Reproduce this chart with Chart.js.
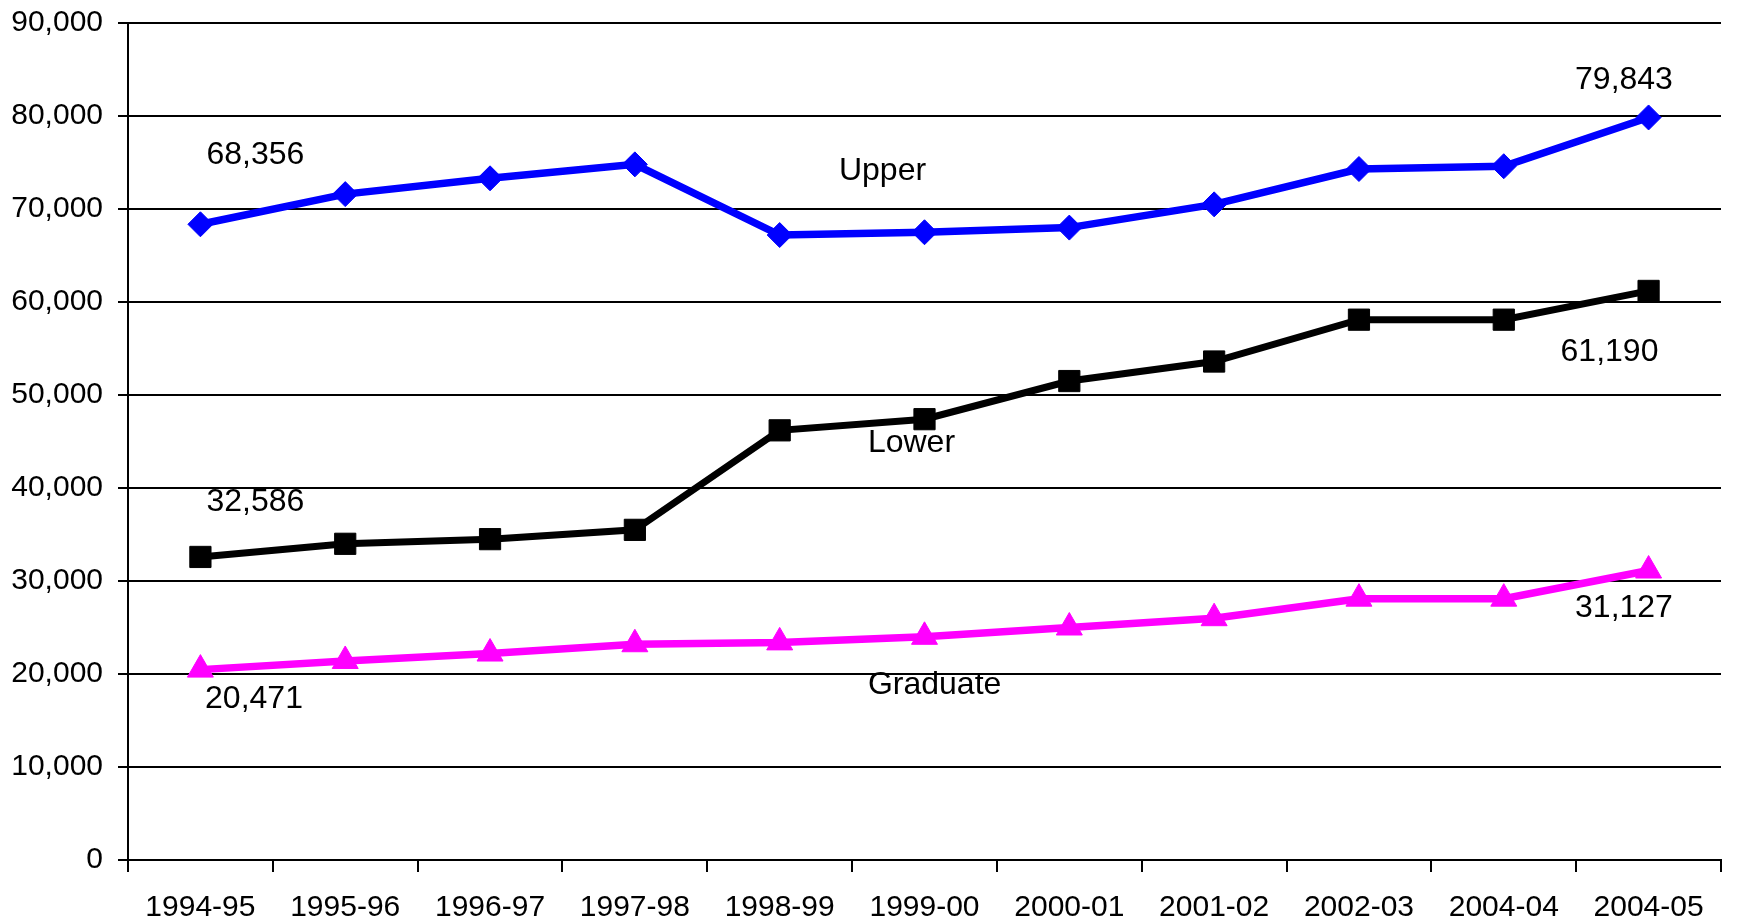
<!DOCTYPE html>
<html>
<head>
<meta charset="utf-8">
<script src="https://cdn.jsdelivr.net/npm/chart.js@4/dist/chart.umd.min.js"></script>
<style>
  html, body { margin: 0; padding: 0; background: #fff; }
  #wrap { width: 1737px; height: 924px; }
</style>
</head>
<body>
<div id="wrap"><canvas id="enrollChart"></canvas></div>
<script>
const years = ["1994-95", "1995-96", "1996-97", "1997-98", "1998-99", "1999-00",
               "2000-01", "2001-02", "2002-03", "2004-04", "2004-05"];

const upper = [68356, 71600, 73300, 74800, 67200, 67500, 68000, 70500, 74300, 74600, 79843];
const lower = [32586, 34000, 34500, 35500, 46200, 47400, 51500, 53600, 58100, 58100, 61190];
const graduate = [20471, 21400, 22200, 23200, 23400, 24000, 25000, 26000, 28100, 28100, 31127];

const yMax = 90000;
const yStep = 10000;

// text labels placed in data space: category index (fractional) and value
const notes = [
    { text: upper[0].toLocaleString("en-US"), at: 0.38, value: 75800 },
    { text: upper[10].toLocaleString("en-US"), at: 9.83, value: 83870 },
    { text: lower[0].toLocaleString("en-US"), at: 0.38, value: 38500 },
    { text: lower[10].toLocaleString("en-US"), at: 9.73, value: 54620 },
    { text: graduate[0].toLocaleString("en-US"), at: 0.37, value: 17310 },
    { text: graduate[10].toLocaleString("en-US"), at: 9.83, value: 27100 },
    { text: "Upper", at: 4.71, value: 74090 },
    { text: "Lower", at: 4.91, value: 44840 },
    { text: "Graduate", at: 5.07, value: 18820 }
];

const fontFamily = "'Liberation Sans', Arial, sans-serif";

const notesPlugin = {
    id: "notes",
    afterDatasetsDraw(chart) {
        const c = chart.ctx;
        const xs = chart.scales.x;
        const ys = chart.scales.y;
        c.save();
        c.font = "32px " + fontFamily;
        c.fillStyle = "#000";
        c.textAlign = "center";
        c.textBaseline = "middle";
        notes.forEach(n => {
            c.fillText(n.text, xs.getPixelForValue(n.at), ys.getPixelForValue(n.value));
        });
        c.restore();
    }
};

const ctx = document.getElementById("enrollChart");

const enrollChart = new Chart(ctx, {
    type: "line",
    data: {
        labels: years,
        datasets: [
            {
                label: "Upper",
                data: upper,
                borderColor: "#0000ff",
                backgroundColor: "#0000ff",
                borderWidth: 7.5,
                pointStyle: "rectRot",
                pointRadius: 12.5,
                pointBorderWidth: 1,
                tension: 0
            },
            {
                label: "Lower",
                data: lower,
                borderColor: "#000000",
                backgroundColor: "#000000",
                borderWidth: 7,
                pointStyle: "rect",
                pointRadius: 15,
                pointBorderWidth: 1,
                tension: 0
            },
            {
                label: "Graduate",
                data: graduate,
                borderColor: "#ff00ff",
                backgroundColor: "#ff00ff",
                borderWidth: 7.5,
                pointStyle: "triangle",
                pointRadius: 15,
                pointBorderWidth: 1,
                tension: 0
            }
        ]
    },
    options: {
        responsive: true,
        maintainAspectRatio: false,
        animation: false,
        layout: { padding: { top: 23, right: 7, left: 0, bottom: 0 } },
        plugins: {
            legend: { display: false },
            tooltip: { enabled: false }
        },
        scales: {
            x: {
                offset: true,
                grid: {
                    offset: true,
                    drawOnChartArea: true,
                    color: c => (c.index === years.length ? "#000" : "rgba(0,0,0,0)"),
                    tickColor: "#000",
                    lineWidth: 2,
                    tickLength: 12
                },
                border: { color: "#000", width: 2 },
                ticks: {
                    color: "#000",
                    padding: 18,
                    maxRotation: 0,
                    autoSkip: false,
                    font: { family: fontFamily, size: 30 }
                },
                afterFit(scale) {
                    scale.height = 64;
                    scale.paddingLeft = 0;
                    scale.paddingRight = 0;
                }
            },
            y: {
                min: 0,
                max: yMax,
                grid: {
                    color: "#000",
                    lineWidth: 2,
                    tickLength: 10
                },
                border: { color: "#000", width: 2 },
                ticks: {
                    stepSize: yStep,
                    color: "#000",
                    padding: 15,
                    font: { family: fontFamily, size: 30 },
                    callback: v => v.toLocaleString("en-US")
                },
                afterFit(scale) {
                    scale.width = 128;
                    scale.paddingTop = 0;
                    scale.paddingBottom = 0;
                }
            }
        }
    },
    plugins: [notesPlugin]
});
</script>
</body>
</html>
